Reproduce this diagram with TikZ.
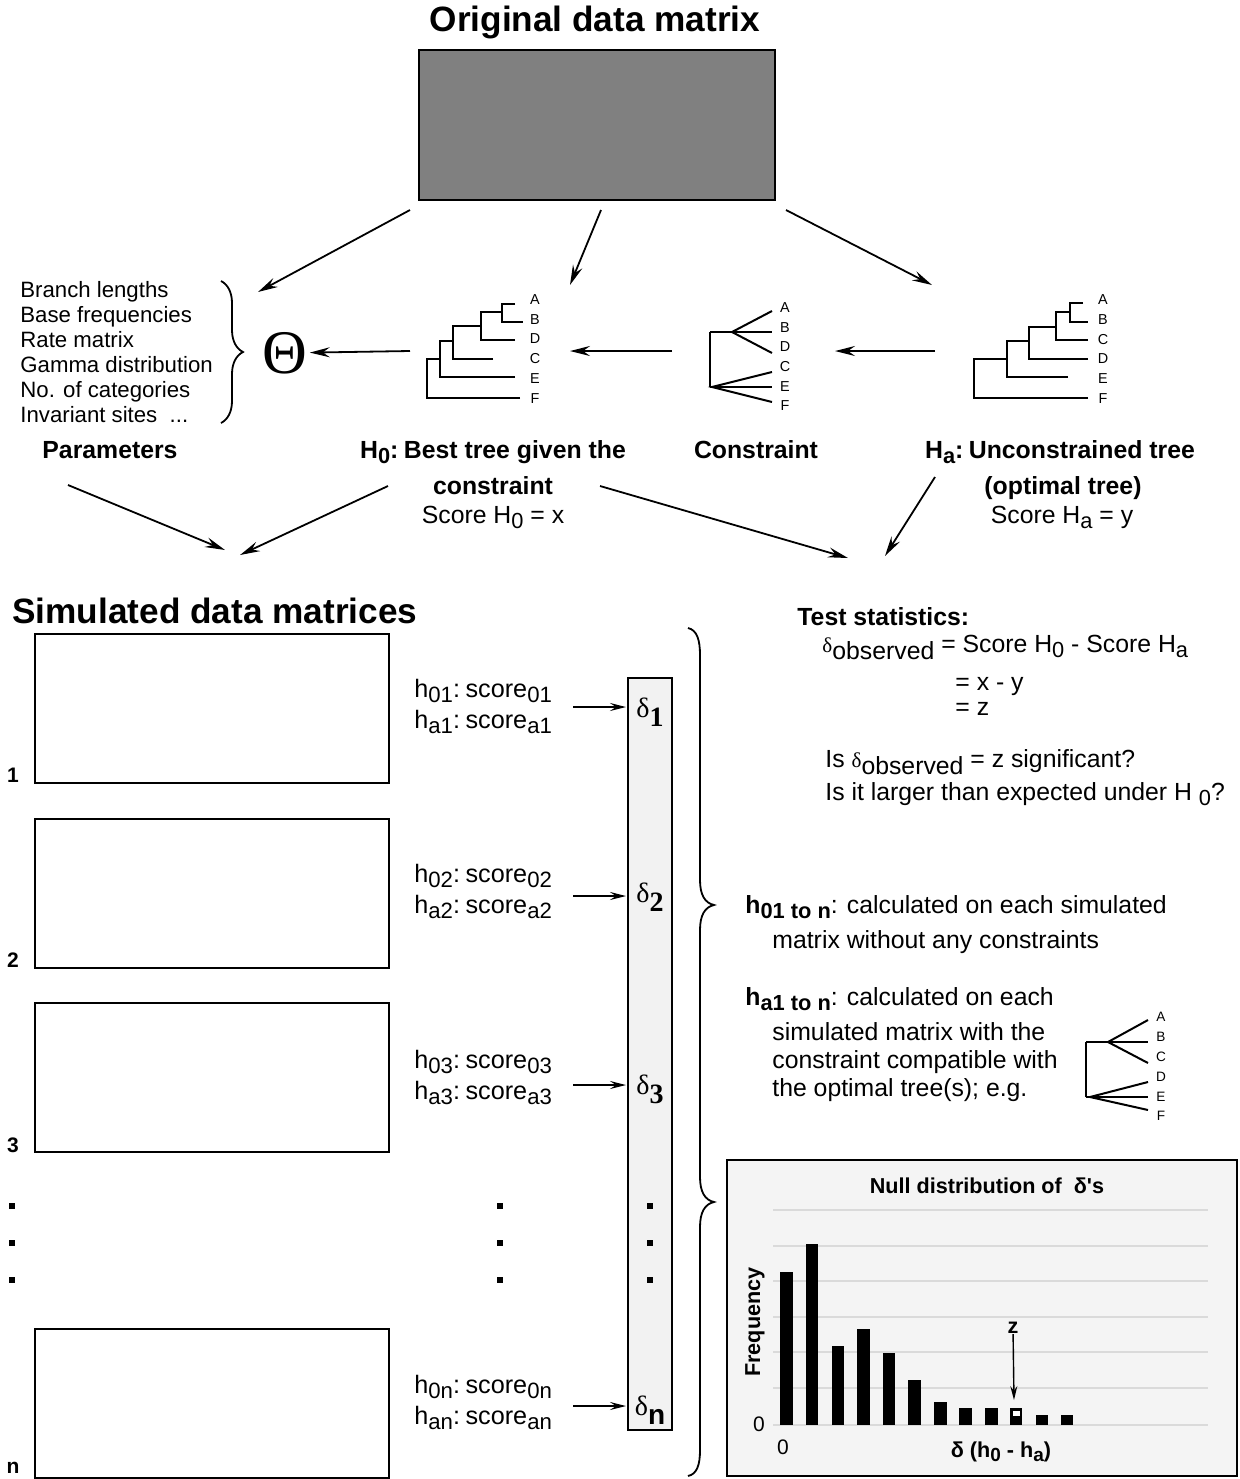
\documentclass[tikz,border=0pt]{standalone}
\usepackage{fontspec}
\setmainfont{Liberation Sans}
\newfontfamily\serifgr{Liberation Serif}
\usepackage{graphicx}
\usetikzlibrary{arrows.meta,decorations.pathreplacing}
\definecolor{matgray}{RGB}{128,128,128}
\definecolor{lightbg}{RGB}{244,244,244}
\definecolor{colbg}{RGB}{242,242,242}
\definecolor{gridc}{RGB}{218,218,218}
\newcommand\lo[1]{\raisebox{-0.4ex}{\scalebox{0.88}{#1}}}
\newcommand\fs[1]{\fontsize{#1}{#1}\selectfont}
\newcommand\dobs{{\serifgr\scalebox{0.85}{δ}}\raisebox{-0.55ex}{observed}}
\newcommand\dsub[1]{{\serifgr δ}\raisebox{-0.6ex}{#1}}
\newcommand\csp{\hspace{0.22em}}
\begin{document}
\begin{tikzpicture}[x=0.5pt,y=-0.5pt,
  arr/.style={-{Stealth[length=10pt,width=5pt,inset=3.5pt]}, line width=0.9pt},
  sarr/.style={-{Stealth[length=8pt,width=4pt,inset=3pt]}, line width=0.9pt},
  tr/.style={line width=1pt},
  lf/.style={font=\fs{7.2}, inner sep=0pt},
  simbox/.style={draw, line width=1pt, minimum width=177pt, minimum height=74.5pt, inner sep=0pt},
  reg/.style={font=\fs{12.4}, inner sep=0pt},
  sc/.style={font=\fs{12.6}, inner sep=0pt},
  bld/.style={font=\fs{12.4}\bfseries, inner sep=0pt},
  big/.style={font=\fs{17.6}\bfseries, inner sep=0pt},
  num/.style={font=\fs{10.5}\bfseries, inner sep=0pt},
  dotm/.style={fill=black, minimum size=2.6pt, inner sep=0pt},
  dl/.style={font=\fs{14}, inner sep=0pt},
  hl/.style={font=\fs{10.8}\bfseries, inner sep=0pt}
]
\useasboundingbox (0,0) rectangle (1239,1479);

% ---------- original matrix ----------
\node[big] (title) at (595,22) {Original data matrix};
\node[draw, fill=matgray, line width=1pt, minimum width=178pt, minimum height=75pt, inner sep=0pt] (orig) at (597,125) {};
\coordinate (o1) at (410,210); \coordinate (o1e) at (258,292);
\coordinate (o2) at (601,210); \coordinate (o2e) at (570,285);
\coordinate (o3) at (786,210); \coordinate (o3e) at (932,285);
\draw[arr] (o1) -- (o1e);
\draw[arr] (o2) -- (o2e);
\draw[arr] (o3) -- (o3e);

% ---------- parameters ----------
\node[anchor=north west, align=left, font=\fontsize{11.1}{12.5}\selectfont, inner sep=0pt] (plist) at (20,281)
 {Branch lengths\\Base frequencies\\Rate matrix\\Gamma distribution\\No. of categories\\Invariant sites\ \ ...};
\draw[line width=0.9pt, decorate, decoration={brace, amplitude=11pt}] (221,281) -- (221,423);
\node[inner sep=1pt, font=\fs{31}\serifgr] (theta) at (285,353) {Θ};

% ---------- H0 tree ----------
\draw[tr] (520,398) -| (427,359) -- (440,359);
\draw[tr] (515,377) -| (440,341) -- (453,341);
\draw[tr] (493,359) -| (453,326) -- (481,326);
\draw[tr] (515,340) -| (481,312) -- (502,312);
\draw[tr] (515,304) -| (502,322) -- (523,322);
\node[lf] (tA) at (535,300) {A};
\node[lf] (tB) at (535,320) {B};
\node[lf] (tD) at (535,339) {D};
\node[lf] (tC) at (535,359) {C};
\node[lf] (tE) at (535,379) {E};
\node[lf] (tF) at (535,399) {F};
\coordinate (h0l) at (410,351);
\draw[arr] (h0l) -- (theta);

% ---------- constraint tree ----------
\draw[tr] (710,332) -- (710,387);
\draw[tr] (710,332) -- (732,332);
\draw[tr] (772,311) -- (732,332) -- (772,353);
\draw[tr] (732,332) -- (772,332);
\draw[tr] (710,387) -- (772,387);
\draw[tr] (772,372) -- (712,387) -- (772,402);
\node[lf] (cA) at (785,308) {A};
\node[lf] (cB) at (785,328) {B};
\node[lf] (cD) at (785,347) {D};
\node[lf] (cC) at (785,367) {C};
\node[lf] (cE) at (785,387) {E};
\node[lf] (cF) at (785,406) {F};
\coordinate (cl) at (672,351); \coordinate (h0r) at (570,351);
\draw[arr] (cl) -- (h0r);

% ---------- Ha tree ----------
\draw[tr] (1088,398) -| (974,359) -- (1007,359);
\draw[tr] (1068,377) -| (1007,341) -- (1029,341);
\draw[tr] (1088,359) -| (1029,327) -- (1056,327);
\draw[tr] (1088,340) -| (1056,312) -- (1070,312);
\draw[tr] (1083,303) -| (1070,322) -- (1088,322);
\node[lf] (uA) at (1103,300) {A};
\node[lf] (uB) at (1103,320) {B};
\node[lf] (uC) at (1103,340) {C};
\node[lf] (uD) at (1103,359) {D};
\node[lf] (uE) at (1103,379) {E};
\node[lf] (uF) at (1103,399) {F};
\coordinate (hal) at (935,351); \coordinate (cr) at (835,351);
\draw[arr] (hal) -- (cr);

% ---------- labels row ----------
\node[bld, anchor=base] (par) at (110,458) {Parameters};
\node[bld, anchor=base] (h0t) at (493,458) {H\lo{0}:\csp Best tree given the};
\node[bld, anchor=base] (h0c) at (493,494) {constraint};
\node[reg, anchor=base] (h0s) at (493,523) {Score H\lo{0} = x};
\node[bld, anchor=base] (con) at (756,458) {Constraint};
\node[bld, anchor=base] (hat) at (1060,458) {H\lo{a}:\csp Unconstrained tree};
\node[bld, anchor=base] (hao) at (1063,494) {(optimal tree)};
\node[reg, anchor=base] (has) at (1062,523) {Score H\lo{a} = y};

\coordinate (q1) at (68,485); \coordinate (q1e) at (225,550);
\coordinate (q2) at (388,486); \coordinate (q2e) at (240,555);
\coordinate (q3) at (600,486); \coordinate (q3e) at (848,558);
\coordinate (q4) at (935,477); \coordinate (q4e) at (885,556);
\draw[arr] (q1) -- (q1e);
\draw[arr] (q2) -- (q2e);
\draw[arr] (q3) -- (q3e);
\draw[arr] (q4) -- (q4e);

% ---------- simulated matrices ----------
\node[big, anchor=west] (simt) at (12,611) {Simulated data matrices};
\node[simbox] (m1) at (212,708.5) {};
\node[simbox] (m2) at (212,893.5) {};
\node[simbox] (m3) at (212,1077.5) {};
\node[simbox] (mn) at (212,1403.5) {};
\node[num] (n1) at (13,775) {1};
\node[num] (n2) at (13,960) {2};
\node[num] (n3) at (13,1145) {3};
\node[num] (nn) at (13,1468) {n};

% delta column
\node[draw, fill=colbg, line width=0.9pt, minimum width=22pt, minimum height=376pt, inner sep=0pt] (col) at (650,1054) {};
\foreach \yy [count=\i] in {1206,1243,1280}{
  \node[dotm] (dl\i) at (12,\yy) {};
  \node[dotm] (dm\i) at (500,\yy) {};
  \node[dotm] (dc\i) at (650,\yy) {};
}
\node[dl] (d1) at (650,712) {\dsub{{\serifgr\bfseries 1}}};
\node[dl] (d2) at (650,897) {\dsub{{\serifgr\bfseries 2}}};
\node[dl] (d3) at (650,1089) {\dsub{{\serifgr\bfseries 3}}};
\node[dl] (dn) at (650,1410) {\dsub{\textbf{n}}};

% score labels
\node[sc, anchor=base west] (s1a) at (414,697) {h\lo{01}:\csp score\lo{01}};
\node[sc, anchor=base west] (s1b) at (414,728) {h\lo{a1}:\csp score\lo{a1}};
\node[sc, anchor=base west] (s2a) at (414,882) {h\lo{02}:\csp score\lo{02}};
\node[sc, anchor=base west] (s2b) at (414,913) {h\lo{a2}:\csp score\lo{a2}};
\node[sc, anchor=base west] (s3a) at (414,1068) {h\lo{03}:\csp score\lo{03}};
\node[sc, anchor=base west] (s3b) at (414,1099) {h\lo{a3}:\csp score\lo{a3}};
\node[sc, anchor=base west] (sna) at (414,1393) {h\lo{0n}:\csp score\lo{0n}};
\node[sc, anchor=base west] (snb) at (414,1424) {h\lo{an}:\csp score\lo{an}};
\coordinate (e1) at (573,707); \coordinate (e1e) at (626,707);
\coordinate (e2) at (573,896); \coordinate (e2e) at (626,896);
\coordinate (e3) at (573,1085); \coordinate (e3e) at (626,1085);
\coordinate (en) at (573,1406); \coordinate (ene) at (626,1406);
\draw[sarr] (e1) -- (e1e);
\draw[sarr] (e2) -- (e2e);
\draw[sarr] (e3) -- (e3e);
\draw[sarr] (en) -- (ene);

% big brace
\draw[line width=0.9pt] (688,628) .. controls (697,630) and (700,640) .. (700,655) -- (700,880)
  .. controls (700,895) and (705,903) .. (714,905) .. controls (705,907) and (700,915) .. (700,930)
  -- (700,1177) .. controls (700,1192) and (705,1200) .. (714,1202) .. controls (705,1204) and (700,1212) .. (700,1227)
  -- (700,1450) .. controls (700,1465) and (697,1474) .. (688,1476);

% ---------- test statistics ----------
\node[bld, anchor=base west] (ts) at (797,625) {Test statistics:};
\node[reg, anchor=base west] (ts1) at (822,652) {\dobs{} = Score H\lo{0} - Score H\lo{a}};
\node[reg, anchor=base west] (ts2) at (955,690) {= x - y};
\node[reg, anchor=base west] (ts3) at (955,715) {= z};
\node[reg, anchor=base west] (ts4) at (825,767) {Is \dobs{} = z significant?};
\node[reg, anchor=base west] (ts5) at (825,800) {Is it larger than expected under H \lo{0}?};

\node[reg, anchor=base west] (p1) at (745,913) {\textbf{h\lo{01 to n}}: calculated on each simulated};
\node[reg, anchor=base west] (p2) at (772,948) {matrix without any constraints};
\node[reg, anchor=base west] (p3) at (745,1005) {\textbf{h\lo{a1 to n}}: calculated on each};
\node[reg, anchor=base west] (p4) at (772,1040) {simulated matrix with the};
\node[reg, anchor=base west] (p5) at (772,1068) {constraint compatible with};
\node[reg, anchor=base west] (p6) at (772,1096) {the optimal tree(s); e.g.};

% small tree
\draw[tr] (1086,1042) -- (1086,1097);
\draw[tr] (1086,1042) -- (1108,1042);
\draw[tr] (1148,1020) -- (1108,1042) -- (1148,1063);
\draw[tr] (1108,1042) -- (1148,1042);
\draw[tr] (1086,1097) -- (1148,1097);
\draw[tr] (1148,1082) -- (1090,1097) -- (1148,1110);
\node[lf, font=\fs{6.8}] (rA) at (1161,1017) {A};
\node[lf, font=\fs{6.8}] (rB) at (1161,1037) {B};
\node[lf, font=\fs{6.8}] (rC) at (1161,1057) {C};
\node[lf, font=\fs{6.8}] (rD) at (1161,1077) {D};
\node[lf, font=\fs{6.8}] (rE) at (1161,1097) {E};
\node[lf, font=\fs{6.8}] (rF) at (1161,1116) {F};

% ---------- histogram ----------
\node[draw, line width=1.4pt, fill=lightbg, minimum width=255pt, minimum height=158pt, inner sep=0pt] (hist) at (982,1318) {};
\node[hl] (htitle) at (987,1186) {Null distribution of\ \ δ\textquotesingle s};
\foreach \gy in {1210,1246,1281,1317,1352,1388}{
  \draw[gridc, line width=0.6pt] (773,\gy) -- (1208,\gy);
}
\draw[gridc, line width=0.8pt] (773,1425) -- (1208,1425);
\foreach \xa/\xb/\tp in {780/793/1272, 806/818/1244, 832/844/1346, 857/870/1329, 883/895/1353, 908/921/1380, 934/947/1402, 959/972/1408, 985/998/1408, 1010/1022/1408, 1036/1048/1415, 1061/1073/1415}{
  \fill (\xa,\tp) rectangle (\xb,1425);
}
\fill[white] (1013,1411) rectangle (1020,1416);
\node[font=\fs{10.5}, inner sep=0pt] (y0) at (759,1424) {0};
\node[font=\fs{10.5}, inner sep=0pt] (x0) at (783,1447) {0};
\node[hl, anchor=base] (xlab) at (1001,1457) {δ (h\lo{0} - h\lo{a})};
\node[hl, rotate=90] (ylab) at (755,1322) {Frequency};
\node[hl] (zl) at (1013,1328) {z};
\coordinate (zt) at (1014,1400);
\draw[-{Stealth[length=7pt,width=3.5pt,inset=2.5pt]}, line width=0.7pt] (zl) -- (zt);

\end{tikzpicture}
\end{document}
